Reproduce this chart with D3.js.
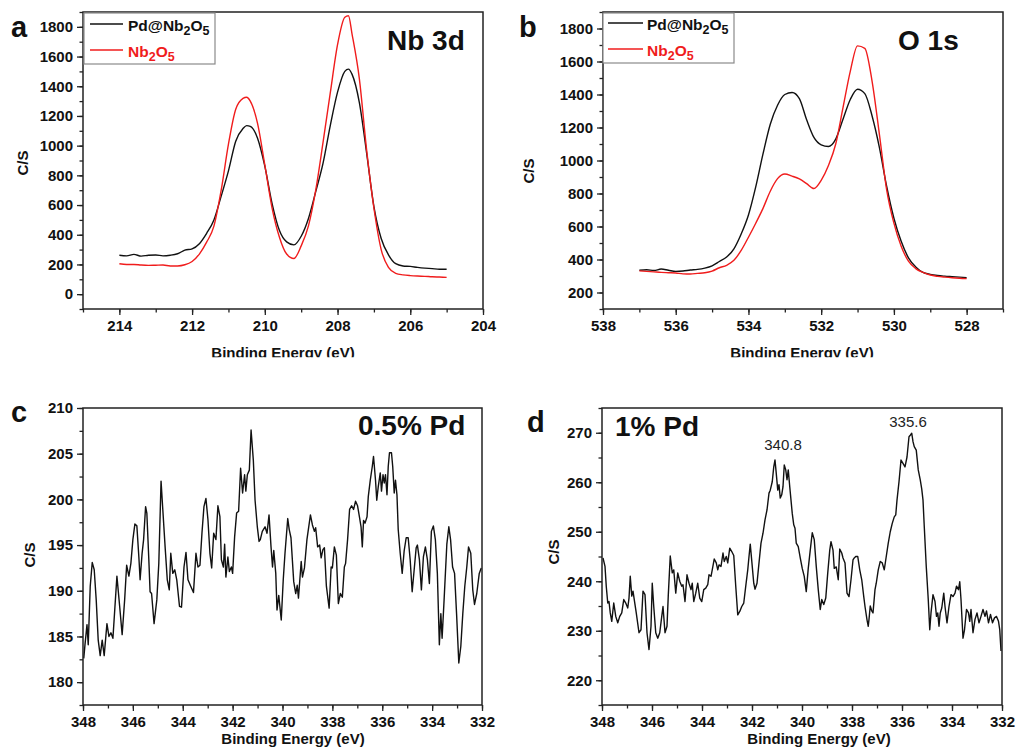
<!DOCTYPE html>
<html><head><meta charset="utf-8">
<script src="https://cdn.jsdelivr.net/npm/d3@7"></script>
<style>body{margin:0;background:#fff} svg{display:block}</style>
</head><body><svg id="c" width="1019" height="751"></svg>
<script>
// ---------- DATA ----------
// Panel a: Nb 3d
const aX = [214,213.8,213.6,213.4,213.2,213,212.8,212.6,212.4,212.2,212,211.8,211.6,211.4,211.2,211,210.8,210.6,210.5,210.4,210.2,210,209.8,209.6,209.4,209.2,209,208.8,208.6,208.4,208.2,208,207.8,207.7,207.6,207.4,207.2,207,206.8,206.6,206.4,206.2,206,205.8,205.6,205.4,205.2,205];
const aPd = [262,258,268,256,262,264,258,262,272,296,305,340,410,500,660,830,1030,1115,1135,1130,1050,862,610,430,352,332,390,510,690,880,1135,1360,1500,1515,1480,1290,950,590,375,265,205,190,187,180,175,172,168,168];
const aNb = [205,200,200,196,194,195,196,190,190,198,220,270,350,458,700,1010,1245,1318,1326,1300,1150,870,580,385,270,240,325,460,700,1020,1355,1680,1865,1875,1750,1450,970,580,300,180,140,130,125,122,120,117,115,113];
// Panel b: O 1s
const bX = [537,536.8,536.6,536.4,536.2,536,535.8,535.6,535.4,535.2,535,534.8,534.6,534.4,534.2,534,533.8,533.6,533.4,533.2,533,532.8,532.6,532.4,532.2,532,531.8,531.6,531.4,531.2,531,530.8,530.6,530.4,530.2,530,529.8,529.6,529.4,529.2,529,528.8,528.6,528.4,528.2,528];
const bPd = [335,338,333,342,335,328,330,336,340,348,362,388,415,465,555,670,840,1040,1220,1335,1400,1412,1375,1247,1140,1095,1085,1130,1250,1370,1432,1405,1270,1080,844,650,510,410,355,322,310,303,299,296,293,290];
const bNb = [331,328,325,322,320,318,313,312,316,320,330,350,365,395,455,535,620,710,814,890,918,905,888,860,830,880,970,1100,1320,1540,1695,1680,1480,1160,824,620,480,390,345,322,306,298,293,289,286,284];
// Panel c: 0.5% Pd, Pd 3d  [binding energy, counts]
const cData = [[347.97,182.6],[347.92,184.1],[347.84,186.3],[347.79,184.1],[347.71,190.5],[347.63,193.1],[347.55,192.3],[347.47,189.0],[347.39,184.6],[347.31,182.9],[347.23,184.6],[347.15,182.9],[347.04,186.4],[346.96,185.0],[346.88,185.4],[346.80,184.8],[346.64,191.6],[346.53,188.3],[346.43,185.2],[346.33,189.0],[346.25,192.8],[346.16,191.6],[346.08,193.0],[346.00,195.6],[345.92,197.3],[345.84,197.1],[345.76,193.7],[345.71,191.2],[345.63,194.1],[345.57,195.6],[345.49,199.2],[345.44,198.5],[345.36,193.4],[345.31,189.9],[345.25,189.7],[345.15,186.4],[345.04,189.0],[344.96,193.0],[344.87,202.0],[344.80,198.9],[344.70,194.5],[344.62,191.2],[344.54,190.1],[344.48,194.1],[344.40,191.9],[344.32,192.3],[344.24,191.2],[344.13,188.3],[344.05,188.2],[343.95,192.6],[343.87,194.2],[343.79,191.2],[343.68,190.5],[343.57,189.8],[343.47,194.1],[343.39,192.6],[343.31,192.8],[343.23,196.3],[343.15,199.2],[343.07,200.1],[342.99,197.8],[342.91,194.1],[342.84,192.5],[342.76,196.3],
[342.67,195.6],[342.59,199.3],[342.51,198.1],[342.45,193.4],[342.37,192.6],[342.32,195.1],[342.27,191.5],[342.19,193.7],[342.13,192.1],[342.05,192.6],[342.00,191.9],[341.92,195.9],[341.84,198.5],[341.76,198.7],[341.68,203.4],[341.60,200.7],[341.52,202.7],[341.47,200.9],[341.41,202.7],[341.33,203.2],[341.26,207.6],[341.17,204.3],[341.10,199.9],[341.01,197.0],[340.94,195.4],[340.89,195.6],[340.81,196.5],[340.70,197.0],[340.62,196.3],[340.54,198.3],[340.46,194.8],[340.40,192.6],[340.35,194.4],[340.27,191.9],[340.22,187.9],[340.15,189.5],[340.05,186.8],[339.97,191.2],[339.90,194.1],[339.79,197.9],[339.73,196.7],[339.66,195.8],[339.55,191.0],[339.47,189.7],[339.41,190.6],[339.36,189.2],[339.25,193.2],[339.20,191.5],[339.12,192.5],[339.02,195.6],[338.88,198.3],[338.80,197.2],[338.72,196.5],[338.67,196.9],[338.59,194.8],[338.51,195.0],[338.45,193.6],[338.38,194.5],[338.32,194.7],[338.24,190.5],[338.13,188.1],[338.05,192.6],[338.00,192.5],[337.92,194.8],[337.84,193.9],[337.76,188.6],[337.68,189.7],[337.60,189.3],[337.52,192.6],[337.47,193.0],[337.39,195.6],
[337.31,198.9],[337.23,199.3],[337.15,198.9],[337.07,199.8],[336.99,199.3],[336.91,198.0],[336.85,197.0],[336.80,194.8],[336.75,197.7],[336.69,197.4],[336.61,198.1],[336.56,200.3],[336.48,202.1],[336.40,203.6],[336.35,204.7],[336.27,202.1],[336.22,199.9],[336.16,201.4],[336.08,202.9],[336.03,200.9],[335.97,202.7],[335.92,201.8],[335.87,202.7],[335.81,200.5],[335.76,203.6],[335.71,205.1],[335.63,205.1],[335.58,203.6],[335.52,200.7],[335.47,202.1],[335.41,200.5],[335.36,196.7],[335.28,194.1],[335.20,191.9],[335.12,194.4],[335.04,195.8],[334.96,195.8],[334.88,193.4],[334.80,189.9],[334.72,192.3],[334.64,194.7],[334.59,195.0],[334.51,193.4],[334.43,190.1],[334.35,193.7],[334.27,194.8],[334.19,193.4],[334.11,190.8],[334.03,196.5],[333.95,197.1],[333.87,195.6],[333.79,191.9],[333.71,184.1],[333.65,187.5],[333.60,184.8],[333.52,189.0],[333.41,195.1],[333.33,197.0],[333.26,195.6],[333.18,192.6],[333.10,191.9],[333.02,187.5],[332.93,182.1],[332.85,183.9],[332.77,187.5],[332.69,190.5],[332.61,192.6],[332.54,194.8],[332.45,194.1],[332.37,190.1],[332.30,188.5],[332.21,189.7],[332.11,191.9],[332.03,192.5]];
// Panel d: 1% Pd, Pd 3d
const dData = [[347.96,244.7],[347.88,243.0],[347.83,239.0],[347.77,235.6],[347.72,235.9],[347.67,233.6],[347.61,231.9],[347.53,235.6],[347.45,232.9],[347.37,231.6],[347.29,232.9],[347.21,233.6],[347.13,236.3],[347.05,235.6],[346.97,234.6],[346.92,236.6],[346.87,241.0],[346.81,237.0],[346.76,238.0],[346.71,236.3],[346.63,233.6],[346.52,229.6],[346.44,230.2],[346.36,238.0],[346.28,237.3],[346.20,229.6],[346.12,226.2],[346.04,230.9],[345.99,239.6],[345.93,234.9],[345.85,229.6],[345.77,228.5],[345.69,229.6],[345.61,232.9],[345.56,234.9],[345.48,229.6],[345.40,230.9],[345.35,237.0],[345.27,245.1],[345.19,241.7],[345.13,242.3],[345.05,237.6],[344.97,241.7],[344.89,240.0],[344.81,239.0],[344.76,239.3],[344.68,235.9],[344.60,241.3],[344.52,239.6],[344.44,238.3],[344.39,239.6],[344.33,235.9],[344.25,237.6],[344.17,239.6],[344.09,236.6],[344.01,235.9],[343.93,238.3],[343.85,238.6],[343.77,239.3],[343.72,241.3],[343.64,241.0],[343.59,242.3],[343.51,244.5],[343.43,243.7],[343.37,242.3],[343.32,243.3],[343.24,243.0],[343.16,245.7],[343.11,244.0],[343.03,245.0],[342.97,243.7],[342.89,246.7],[342.81,246.0],[342.73,245.2],
[342.65,239.0],[342.57,233.2],[342.49,233.9],[342.41,234.9],[342.33,235.6],[342.25,239.0],[342.17,242.3],[342.12,245.0],[342.07,247.5],[341.99,243.0],[341.93,239.6],[341.88,238.4],[341.80,239.6],[341.72,243.7],[341.64,247.7],[341.56,249.7],[341.48,252.4],[341.40,254.4],[341.32,257.8],[341.27,258.4],[341.19,260.1],[341.13,263.1],[341.08,264.5],[341.03,261.8],[340.97,258.4],[340.92,259.5],[340.87,256.8],[340.81,257.5],[340.76,259.1],[340.71,263.5],[340.65,262.5],[340.60,260.5],[340.55,262.5],[340.49,259.1],[340.44,256.4],[340.39,253.7],[340.33,251.4],[340.28,250.7],[340.23,247.7],[340.15,247.0],[340.07,244.7],[339.99,242.6],[339.91,241.0],[339.83,237.9],[339.75,242.6],[339.67,246.3],[339.59,249.8],[339.51,248.4],[339.43,243.0],[339.35,238.3],[339.27,234.3],[339.21,236.3],[339.13,235.3],[339.05,236.6],[338.97,241.7],[338.89,246.3],[338.84,248.0],[338.76,246.3],[338.71,242.6],[338.63,242.9],[338.55,240.3],[338.49,246.5],[338.41,245.7],[338.36,244.7],[338.28,243.7],[338.20,237.6],[338.12,236.9],[338.04,240.3],[337.96,244.3],[337.91,244.7],[337.85,245.0],[337.77,245.0],[337.69,242.3],[337.61,240.3],[337.53,236.9],[337.48,234.9],[337.40,232.2],[337.35,230.9],
[337.32,232.3],[337.27,235.0],[337.21,234.0],[337.16,233.6],[337.08,238.3],[337.03,239.6],[336.95,242.3],[336.87,244.0],[336.79,243.7],[336.71,242.3],[336.63,245.0],[336.55,247.7],[336.47,250.0],[336.39,251.7],[336.31,253.0],[336.25,253.4],[336.20,256.4],[336.12,260.1],[336.04,264.5],[335.96,263.8],[335.88,263.1],[335.80,265.1],[335.72,269.2],[335.67,269.5],[335.61,269.9],[335.56,268.2],[335.51,267.2],[335.43,266.5],[335.35,262.5],[335.27,260.5],[335.21,258.6],[335.16,256.4],[335.11,251.1],[335.03,243.0],[334.95,236.3],[334.89,230.2],[334.84,233.6],[334.76,237.3],[334.68,235.9],[334.62,232.9],[334.57,233.6],[334.52,230.9],[334.47,233.6],[334.41,234.6],[334.33,237.6],[334.28,234.9],[334.20,231.6],[334.12,234.9],[334.04,237.3],[333.96,236.9],[333.88,237.6],[333.82,239.0],[333.74,238.3],[333.69,239.9],[333.64,236.3],[333.56,228.5],[333.50,230.2],[333.42,234.3],[333.34,233.6],[333.29,231.9],[333.24,234.3],[333.16,229.6],[333.08,232.3],[333.00,233.6],[332.92,231.6],[332.84,232.9],[332.76,234.3],[332.68,232.9],[332.62,234.0],[332.54,231.6],[332.46,233.3],[332.38,231.6],[332.30,232.6],[332.22,232.9],[332.14,231.9],[332.09,230.2],[332.04,225.9]];

// Tick labels
const aXTicks = [214,212,210,208,206,204];
const aYTicks = [0,200,400,600,800,1000,1200,1400,1600,1800];
const bXTicks = [538,536,534,532,530,528];
const bYTicks = [200,400,600,800,1000,1200,1400,1600,1800];
const cdXTicks = [348,346,344,342,340,338,336,334,332];
const cYTicks = [180,185,190,195,200,205,210];
const dYTicks = [220,230,240,250,260,270];
const seriesNames = [["Pd@Nb","2","O","5"],["Nb","2","O","5"]];
const panelTitles = ["Nb 3d","O 1s","0.5% Pd","1% Pd"];
const peakLabels = [{x:340.8, text:"340.8"},{x:335.6, text:"335.6"}];

// ---------- DRAW ----------
const FONT = '"Liberation Sans", Arial, Helvetica, sans-serif';
const RED = '#f01c1c', BLK = '#111';
const svg = d3.select('#c').style('font-family', FONT);

svg.append('defs').append('clipPath').attr('id','topclip')
  .append('rect').attr('x',0).attr('y',0).attr('width',1019).attr('height',357.2);

const panels = [
  {l:83,r:483,t:12,b:309,xDom:[215,204],yDom:[-100,1900],xMaj:aXTicks,xMin:d3.range(215,203.9,-1),yMaj:aYTicks,yMin:d3.range(-100,1901,100),
   series:[{data:d3.zip(aX,aPd),color:BLK},{data:d3.zip(aX,aNb),color:RED}],curve:d3.curveMonotoneX,
   letter:'a',letterX:11,letterY:37,title:panelTitles[0],titleX:387,titleY:50,
   xl:{x:283,y:357.6,clip:true},yl:{x:22.5,y:163},legend:{x:84,y:13,w:131,h:51,lx1:90,lx2:123,tx:128,rows:[24,50]}},
  {l:603,r:1003,t:12,b:309,xDom:[538,527],yDom:[100,1900],xMaj:bXTicks,xMin:d3.range(538,526.9,-1),yMaj:bYTicks,yMin:d3.range(100,1901,100),
   series:[{data:d3.zip(bX,bPd),color:BLK},{data:d3.zip(bX,bNb),color:RED}],curve:d3.curveMonotoneX,
   letter:'b',letterX:519,letterY:37,title:panelTitles[1],titleX:898,titleY:50,
   xl:{x:802,y:357.6,clip:true},yl:{x:529,y:171},legend:{x:603,y:13,w:131,h:50,lx1:608,lx2:643,tx:647,rows:[23,49]}},
  {l:83,r:482,t:408,b:705,xDom:[348,332],yDom:[177.5,210],xMaj:cdXTicks,xMin:d3.range(348,331.9,-1),yMaj:cYTicks,yMin:d3.range(177.5,210.1,2.5),
   series:[{data:cData,color:BLK}],curve:d3.curveLinear,
   letter:'c',letterX:11,letterY:422,title:panelTitles[2],titleX:358,titleY:435,
   xl:{x:293,y:744},yl:{x:30,y:555}},
  {l:602,r:1002,t:408,b:705,xDom:[348,332],yDom:[215,275],xMaj:cdXTicks,xMin:d3.range(348,331.9,-1),yMaj:dYTicks,yMin:d3.range(215,275.1,5),
   series:[{data:dData,color:BLK}],curve:d3.curveLinear,
   letter:'d',letterX:527,letterY:432,title:panelTitles[3],titleX:615,titleY:436,
   xl:{x:819,y:744},yl:{x:554,y:552},peaks:true}
];
const peakOffsets = {"340.8":{dx:1,dy:-10},"335.6":{dx:-4,dy:-6}};

function styleAxis(sel){
  sel.select('.domain').remove();
  sel.selectAll('line').attr('stroke','#222').attr('stroke-width',1.3);
  sel.selectAll('text').attr('font-size',15).attr('font-weight','bold').attr('fill','#111').attr('font-family',FONT);
}

function addFormula(textSel, parts){
  let shift = 0;
  parts.forEach((t,i)=>{
    const sub = i % 2 === 1;
    const target = sub ? 4 : 0;
    textSel.append('tspan').text(t).attr('font-size', sub ? 12.5 : 15.5).attr('dy', target - shift);
    shift = target;
  });
}

panels.forEach(p=>{
  const x = d3.scaleLinear().domain(p.xDom).range([p.l,p.r]);
  const y = d3.scaleLinear().domain(p.yDom).range([p.b,p.t]);
  const g = svg.append('g');
  const line = d3.line().x(d=>x(d[0])).y(d=>y(d[1])).curve(p.curve);

  p.series.forEach(s=>{
    g.append('path').attr('d',line(s.data)).attr('fill','none')
      .attr('stroke',s.color).attr('stroke-width',1.4).attr('stroke-linejoin','round');
  });

  g.append('g').attr('transform',`translate(0,${p.b})`)
    .call(d3.axisBottom(x).tickValues(p.xMin).tickSize(3.5).tickFormat('')).call(styleAxis);
  g.append('g').attr('transform',`translate(0,${p.b})`)
    .call(d3.axisBottom(x).tickValues(p.xMaj).tickSize(6).tickPadding(5).tickFormat(d3.format('d'))).call(styleAxis);
  g.append('g').attr('transform',`translate(${p.l},0)`)
    .call(d3.axisLeft(y).tickValues(p.yMin).tickSize(3.5).tickFormat('')).call(styleAxis);
  g.append('g').attr('transform',`translate(${p.l},0)`)
    .call(d3.axisLeft(y).tickValues(p.yMaj).tickSize(6).tickPadding(4).tickFormat(d3.format('d'))).call(styleAxis);

  g.append('rect').attr('x',p.l).attr('y',p.t).attr('width',p.r-p.l).attr('height',p.b-p.t)
    .attr('fill','none').attr('stroke','#222').attr('stroke-width',1.5);

  // axis titles
  const xt = g.append('text').attr('x',p.xl.x).attr('y',p.xl.y).attr('text-anchor','middle')
    .attr('font-size',15).attr('font-weight','bold').attr('fill','#111').text('Binding Energy (eV)');
  if (p.xl.clip) xt.attr('clip-path','url(#topclip)');
  g.append('text').attr('transform',`translate(${p.yl.x},${p.yl.y}) rotate(-90)`).attr('text-anchor','middle')
    .attr('dy','0.36em').attr('font-size',15).attr('font-weight','bold').attr('fill','#111').text('C/S');

  // panel letter & title
  g.append('text').attr('x',p.letterX).attr('y',p.letterY).attr('font-size',29).attr('font-weight','bold').attr('fill','#111').text(p.letter);
  g.append('text').attr('x',p.titleX).attr('y',p.titleY).attr('font-size',28).attr('font-weight','bold').attr('fill','#111').text(p.title);

  if (p.legend){
    const L = p.legend;
    g.append('rect').attr('x',L.x).attr('y',L.y).attr('width',L.w).attr('height',L.h)
      .attr('fill','#fff').attr('stroke','#8a8a8a').attr('stroke-width',1.2);
    p.series.forEach((s,i)=>{
      const ry = L.rows[i];
      g.append('line').attr('x1',L.lx1).attr('x2',L.lx2).attr('y1',ry).attr('y2',ry).attr('stroke',s.color).attr('stroke-width',1.5);
      const t = g.append('text').attr('x',L.tx).attr('y',ry+6.5).attr('font-weight','bold').attr('fill',s.color);
      addFormula(t, seriesNames[i]);
    });
  }

  if (p.peaks){
    peakLabels.forEach(pk=>{
      const top = d3.max(p.series[0].data.filter(d=>Math.abs(d[0]-pk.x)<0.4), d=>d[1]);
      const o = peakOffsets[pk.text];
      g.append('text').attr('x',x(pk.x)+o.dx).attr('y',y(top)+o.dy).attr('text-anchor','middle')
        .attr('font-size',15).attr('fill','#222').text(pk.text);
    });
  }
});
</script>
</body></html>
